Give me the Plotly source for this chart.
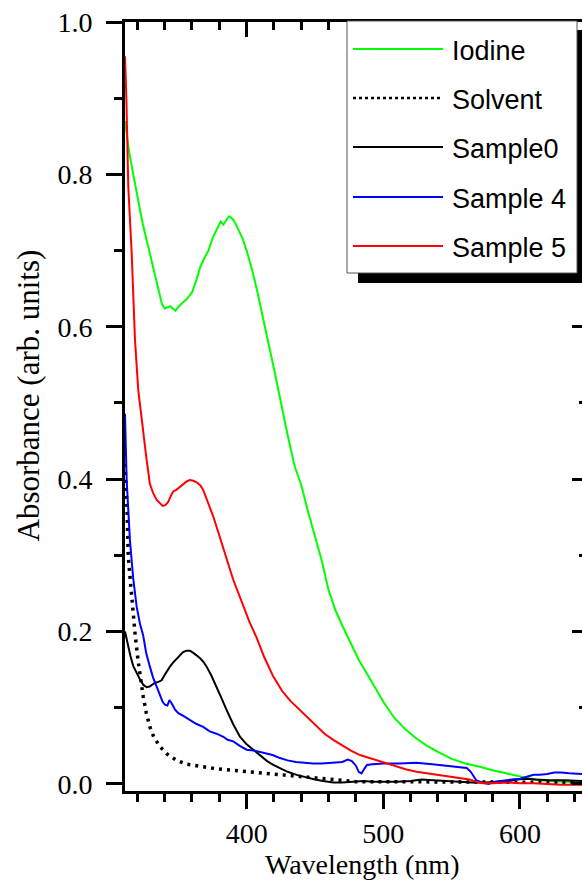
import plotly.graph_objects as go

# ---- data (wavelength in nm, absorbance in arb. units) ----
iodine_wl = [311, 314, 317, 320, 324, 328, 332, 335, 338, 340, 342, 344, 346, 348, 350,
             352, 354, 356, 358, 360, 363, 366, 369, 372, 375, 378, 381, 383, 385, 387,
             388, 390, 392, 394, 397, 400, 404, 408, 412, 416, 420, 425, 430, 435, 440,
             445, 450, 455, 460, 465, 470, 476, 482, 488, 494, 500, 508, 516, 524, 532,
             540, 550, 560, 570, 580, 590, 600, 610, 620, 630, 640, 646]
iodine_abs = [0.870, 0.830, 0.800, 0.770, 0.735, 0.705, 0.675, 0.650, 0.630, 0.624, 0.626,
              0.627, 0.624, 0.621, 0.626, 0.630, 0.633, 0.636, 0.640, 0.645, 0.660, 0.678,
              0.690, 0.700, 0.716, 0.728, 0.738, 0.734, 0.740, 0.745, 0.744, 0.741, 0.735,
              0.728, 0.716, 0.700, 0.675, 0.645, 0.609, 0.578, 0.545, 0.500, 0.458, 0.418,
              0.392, 0.357, 0.325, 0.293, 0.254, 0.228, 0.208, 0.185, 0.163, 0.145, 0.126,
              0.108, 0.087, 0.072, 0.060, 0.050, 0.042, 0.033, 0.027, 0.023, 0.018, 0.014,
              0.009, 0.006, 0.004, 0.003, 0.002, 0.002]

solvent_wl = [311, 312.5, 313.4, 315.9, 318.3, 320.7, 322.5, 324.3, 326.5, 329.2, 332,
              336.6, 342, 348.8, 356, 365.8, 378, 390.2, 402, 414.6, 425, 436.6, 450, 465,
              480, 500, 520, 540, 560, 580, 600, 620, 646]
solvent_abs = [0.420, 0.360, 0.298, 0.241, 0.198, 0.160, 0.135, 0.115, 0.094, 0.075, 0.062,
               0.049, 0.039, 0.031, 0.026, 0.023, 0.020, 0.018, 0.016, 0.014, 0.012, 0.0105,
               0.008, 0.006, 0.003, 0.003, 0.003, 0.002, 0.003, 0.002, 0.002, 0.002, 0.002]

sample0_wl = [311, 313, 315, 317, 319.5, 322, 324.5, 326.8, 329, 331, 333, 335.5, 337.8, 340,
              342, 343.9, 346, 348.5, 351.2, 353.5, 356.1, 358.5, 361, 363.4, 366, 368.5,
              370.7, 374, 378, 381.5, 385.4, 390, 395.1, 400, 404.9, 410, 415, 419.5, 424.4,
              430, 436.6, 443, 450, 456, 463.4, 470, 478, 485.3, 492, 500, 510, 520, 528,
              536.5, 545, 555, 565, 575, 585, 592, 597.6, 605, 612, 622, 632, 640, 646]
sample0_abs = [0.200, 0.182, 0.168, 0.155, 0.145, 0.137, 0.130, 0.127, 0.128, 0.131, 0.133,
               0.134, 0.136, 0.143, 0.149, 0.154, 0.159, 0.164, 0.169, 0.173, 0.175, 0.175,
               0.172, 0.169, 0.165, 0.160, 0.154, 0.143, 0.128, 0.113, 0.097, 0.079, 0.062,
               0.052, 0.045, 0.037, 0.030, 0.025, 0.021, 0.016, 0.012, 0.009, 0.006, 0.004,
               0.002, 0.002, 0.003, 0.004, 0.003, 0.003, 0.003, 0.004, 0.006, 0.005, 0.004,
               0.003, 0.002, 0.002, 0.003, 0.004, 0.006, 0.007, 0.006, 0.005, 0.005, 0.004,
               0.004]

sample4_wl = [311, 312.2, 314.6, 317, 319.5, 322, 324.3, 326.5, 329.2, 331.5, 334.1, 336.5,
              338.5, 340.2, 342, 343.5, 345.1, 347.5, 350, 354, 358.5, 363, 368.2, 373, 378,
              383, 386, 390.2, 395, 400, 405, 409.7, 414, 419, 424.4, 430, 436, 442, 448.7,
              455, 461, 466, 470, 474, 477, 480, 482, 484, 486, 488, 492, 500, 512, 524, 536,
              548, 556, 561, 564, 566, 568, 572, 577, 582, 588, 594, 600, 606, 610, 614.6,
              620, 625, 630, 636, 641, 646]
sample4_abs = [0.486, 0.399, 0.320, 0.270, 0.233, 0.210, 0.195, 0.172, 0.154, 0.140, 0.128,
               0.117, 0.108, 0.104, 0.103, 0.110, 0.106, 0.098, 0.093, 0.089, 0.084, 0.079,
               0.075, 0.069, 0.066, 0.062, 0.058, 0.056, 0.050, 0.045, 0.044, 0.042, 0.040,
               0.038, 0.034, 0.031, 0.029, 0.028, 0.027, 0.027, 0.028, 0.029, 0.029, 0.032,
               0.030, 0.024, 0.016, 0.014, 0.020, 0.025, 0.026, 0.027, 0.027, 0.028, 0.026,
               0.024, 0.022, 0.021, 0.016, 0.010, 0.005, 0.002, 0.000, 0.003, 0.005, 0.006,
               0.007, 0.010, 0.012, 0.012, 0.013, 0.015, 0.015, 0.014, 0.013, 0.013]

sample5_wl = [311, 312, 313.4, 315.9, 318.3, 320.7, 322.5, 324.3, 326.5, 329.2, 331.5, 334.1,
              336, 338.5, 340.5, 342.6, 344.5, 346.3, 348.5, 351.2, 353.5, 356.1, 358.5, 361,
              363.4, 366, 368.2, 372, 375.6, 379, 382.9, 386.5, 390.2, 394, 397.5, 402, 407.3,
              413, 419.5, 426, 432, 439, 445, 451.2, 457, 463.4, 470, 476, 482.9, 490, 496,
              502.4, 510, 517, 524.4, 532, 540, 548.8, 556, 563, 568, 573, 580, 590, 600, 610,
              620, 630, 640, 646]
sample5_abs = [0.955, 0.900, 0.784, 0.696, 0.583, 0.517, 0.490, 0.460, 0.430, 0.394, 0.382,
               0.373, 0.370, 0.365, 0.366, 0.370, 0.378, 0.384, 0.386, 0.390, 0.394, 0.397,
               0.399, 0.398, 0.396, 0.392, 0.386, 0.369, 0.351, 0.332, 0.311, 0.289, 0.268,
               0.250, 0.233, 0.213, 0.192, 0.166, 0.141, 0.122, 0.109, 0.097, 0.086, 0.075,
               0.066, 0.058, 0.051, 0.044, 0.038, 0.034, 0.030, 0.027, 0.023, 0.019, 0.016,
               0.014, 0.012, 0.010, 0.008, 0.006, 0.003, 0.001, 0.001, 0.002, 0.001, 0.001,
               0.000, -0.001, -0.001, -0.001]

series_names = ["Iodine", "Solvent", "Sample0", "Sample 4", "Sample 5"]
series_colors = ["#00ff00", "black", "black", "#0000ff", "#ff0000"]

# ---- page geometry ----
W, H = 582, 883
M_L, M_R, M_T, M_B = 125, 0, 22, 92
PW = W - M_L - M_R
PH = H - M_T - M_B
X_RANGE = [311.0, 645.4]
Y_RANGE = [-0.0092, 1.0]


def px_x(px):
    # pixel column -> paper x
    return (px - M_L) / PW


def px_y(py):
    # pixel row -> paper y
    return (H - M_B - py) / PH


serif = dict(family="Liberation Serif, Times New Roman, serif", color="black")
sans = dict(family="Liberation Sans, Arial, sans-serif", color="black")

fig = go.Figure()
data = [(iodine_wl, iodine_abs), (solvent_wl, solvent_abs), (sample0_wl, sample0_abs),
        (sample4_wl, sample4_abs), (sample5_wl, sample5_abs)]
for (wl, ab), name, col in zip(data, series_names, series_colors):
    if name == "Solvent":
        line = dict(color=col, width=3.5, dash="3px,5px")
    else:
        line = dict(color=col, width=2)
    fig.add_trace(go.Scatter(x=wl, y=ab, mode="lines", name=name, line=line,
                             showlegend=False))

# empty trace so the mirrored top / right axes get drawn
fig.add_trace(go.Scatter(x=[], y=[], xaxis="x2", yaxis="y2", showlegend=False,
                         hoverinfo="skip"))

fig.update_layout(
    width=W, height=H,
    margin=dict(l=M_L, r=M_R, t=M_T, b=M_B, pad=0),
    paper_bgcolor="white", plot_bgcolor="white",
    showlegend=False,
    xaxis=dict(range=X_RANGE, showgrid=False, zeroline=False,
               showline=True, linecolor="black", linewidth=3,
               ticks="outside", ticklen=15, tickwidth=3, tickcolor="black",
               tick0=0, dtick=100,
               tickfont=dict(size=28, **serif),
               minor=dict(ticks="outside", dtick=20, tick0=0, ticklen=8,
                          tickwidth=3, tickcolor="black", showgrid=False)),
    xaxis2=dict(range=X_RANGE, overlaying="x", side="top", anchor="y",
                showgrid=False, zeroline=False, showticklabels=False,
                showline=True, linecolor="black", linewidth=3,
                ticks="inside", ticklen=15, tickwidth=3, tickcolor="black",
                tick0=0, dtick=100,
                minor=dict(ticks="inside", dtick=20, tick0=0, ticklen=8,
                           tickwidth=3, tickcolor="black", showgrid=False)),
    yaxis=dict(range=Y_RANGE, showgrid=False, zeroline=False,
               showline=True, linecolor="black", linewidth=3,
               ticks="outside", ticklen=16, tickwidth=3, tickcolor="black",
               tick0=0, dtick=0.2, tickformat=".1f", ticklabelstandoff=8,
               tickfont=dict(size=28, **serif),
               minor=dict(ticks="outside", dtick=0.1, tick0=0, ticklen=8,
                          tickwidth=3, tickcolor="black", showgrid=False)),
    yaxis2=dict(range=Y_RANGE, overlaying="y", side="right", anchor="x2",
                showgrid=False, zeroline=False, showticklabels=False, showline=False,
                ticks="inside", ticklen=10, tickwidth=3, tickcolor="black",
                tick0=0, dtick=0.2,
                minor=dict(ticks="inside", dtick=0.1, tick0=0, ticklen=3,
                           tickwidth=3, tickcolor="black", showgrid=False)),
)

# axis titles
fig.add_annotation(text="Wavelength (nm)", xref="paper", yref="paper",
                   x=px_x(362), y=px_y(864), xanchor="center", yanchor="middle",
                   showarrow=False, font=dict(size=28, **serif))
fig.add_annotation(text="Absorbance (arb. units)", xref="paper", yref="paper",
                   x=px_x(28.5), y=px_y(396), xanchor="center", yanchor="middle",
                   textangle=-90, showarrow=False, font=dict(size=31, **serif))

# legend box with drop shadow, Origin style
fig.add_shape(type="rect", xref="paper", yref="paper",
              x0=px_x(358), x1=px_x(600), y0=px_y(283), y1=px_y(30),
              fillcolor="black", line=dict(width=0))
fig.add_shape(type="rect", xref="paper", yref="paper",
              x0=px_x(347), x1=px_x(577), y0=px_y(273), y1=px_y(21),
              fillcolor="white", line=dict(color="#555555", width=1))
row_y = [49, 98, 147, 197, 246]
for ry, name, col in zip(row_y, series_names, series_colors):
    dash = "dot" if name == "Solvent" else "solid"
    fig.add_shape(type="line", xref="paper", yref="paper",
                  x0=px_x(353), x1=px_x(443), y0=px_y(ry), y1=px_y(ry),
                  line=dict(color=col, width=2.5 if dash == "dot" else 2, dash=dash))
    fig.add_annotation(text=name, xref="paper", yref="paper",
                       x=px_x(450), y=px_y(ry + 2), xanchor="left", yanchor="middle",
                       showarrow=False, font=dict(size=27, **sans))

fig.write_html("out.html", config={"displayModeBar": False},
               post_script="document.body.style.margin='0';")
